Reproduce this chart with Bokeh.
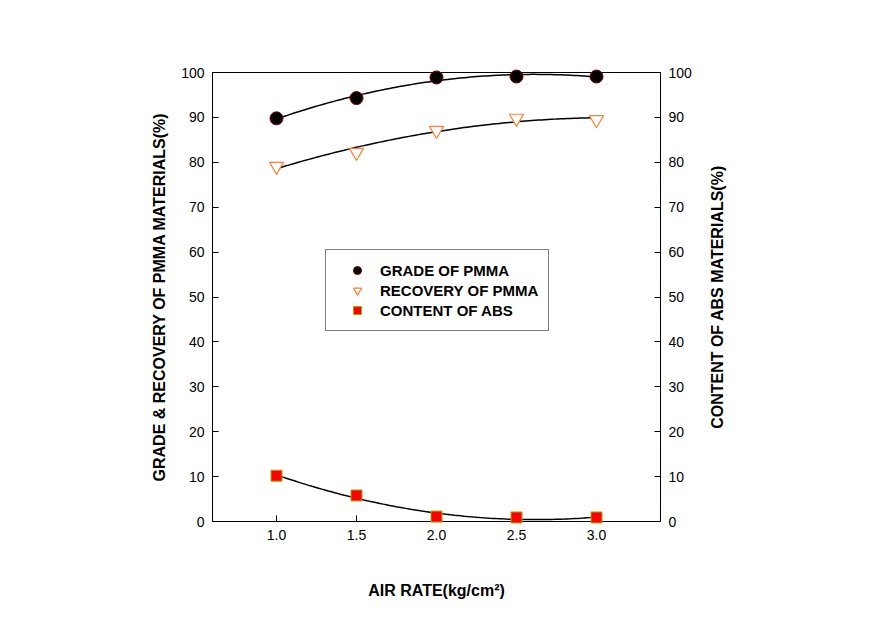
import numpy as np
from bokeh.plotting import figure
from bokeh.layouts import row
from bokeh.models import Range1d, LinearAxis, FixedTicker, Legend, LegendItem, NumeralTickFormatter
from bokeh.embed import file_html
from bokeh.resources import INLINE

# ---- data ----
air_rate = [1.0, 1.5, 2.0, 2.5, 3.0]
grade_pmma = [89.8, 94.3, 98.9, 99.1, 99.1]
recovery_pmma = [79.1, 82.2, 87.1, 89.8, 89.5]
content_abs = [10.2, 5.8, 1.1, 0.9, 0.9]
x_ticks = [1.0, 1.5, 2.0, 2.5, 3.0]
y_ticks = [0, 10, 20, 30, 40, 50, 60, 70, 80, 90, 100]

FONT = "Liberation Sans"

p = figure(width=700, height=630, output_backend="svg", toolbar_location=None,
           x_range=Range1d(0.6, 3.4), y_range=Range1d(0, 100),
           min_border_left=212, min_border_right=40, min_border_top=72, min_border_bottom=109)
p.extra_y_ranges = {"abs": Range1d(0, 100)}
p.grid.visible = False
p.outline_line_color = "black"
p.outline_line_width = 1
p.background_fill_color = "white"
p.border_fill_color = "white"

right_axis = LinearAxis(y_range_name="abs")
p.add_layout(right_axis, "right")

for ax in [p.xaxis[0], p.yaxis[0], right_axis]:
    ax.axis_line_color = "black"
    ax.major_tick_in = 6
    ax.major_tick_out = 0
    ax.minor_tick_line_color = None
    ax.major_label_text_font = FONT
    ax.major_label_text_font_size = "14px"
    ax.major_label_text_color = "black"
    ax.major_label_standoff = 8
    ax.axis_label_text_font = FONT
    ax.axis_label_text_font_size = "16px"
    ax.axis_label_text_font_style = "bold"
    ax.axis_label_text_color = "black"

p.xaxis.ticker = FixedTicker(ticks=x_ticks)
p.xaxis.formatter = NumeralTickFormatter(format="0.0")
p.yaxis[0].ticker = FixedTicker(ticks=y_ticks)
right_axis.ticker = FixedTicker(ticks=y_ticks)

p.xaxis.axis_label = "AIR RATE(kg/cm²)"
p.xaxis.axis_label_standoff = 39
p.yaxis[0].axis_label = "GRADE & RECOVERY OF PMMA MATERIALS(%)"
p.yaxis[0].axis_label_standoff = 10

# fitted curves (quadratic regression of the data)
xs = np.linspace(1.0, 3.0, 100)
for ys, rng in [(grade_pmma, "default"), (recovery_pmma, "default"), (content_abs, "abs")]:
    c = np.polyfit(air_rate, ys, 2)
    p.line(xs, np.polyval(c, xs), line_color="black", line_width=1.5, y_range_name=rng)

r1 = p.scatter(air_rate, grade_pmma, marker="circle", size=13, fill_color="black",
               line_color="#800000", line_width=1, level="overlay")
r2 = p.scatter(air_rate, recovery_pmma, marker="inverted_triangle", size=14, fill_color="white",
               line_color="#ff7f33", line_width=1.2, level="overlay")
r3 = p.scatter(air_rate, content_abs, marker="square", size=11, fill_color="red",
               line_color="#a8a800", line_width=1, y_range_name="abs", level="overlay")

legend = Legend(items=[LegendItem(label="GRADE OF PMMA", renderers=[r1]),
                       LegendItem(label="RECOVERY OF PMMA", renderers=[r2]),
                       LegendItem(label="CONTENT OF ABS", renderers=[r3])],
                location=(113, 190))
legend.label_text_font = FONT
legend.label_text_font_size = "15px"
legend.label_text_font_style = "bold"
legend.label_text_color = "black"
legend.glyph_width = 42
legend.glyph_height = 20
legend.label_height = 20
legend.label_standoff = 2
legend.spacing = 0
legend.padding = 10
legend.margin = 0
legend.border_line_color = "black"
legend.border_line_width = 1
legend.background_fill_color = "white"
legend.background_fill_alpha = 1
p.add_layout(legend, "center")

# narrow companion figure carrying the right-hand axis title (reads bottom to top)
p2 = figure(width=60, height=630, output_backend="svg", toolbar_location=None,
            x_range=Range1d(0, 1), y_range=Range1d(0, 100),
            min_border_left=30, min_border_right=5, min_border_top=72, min_border_bottom=109)
p2.grid.visible = False
p2.xaxis.visible = False
p2.outline_line_color = None
p2.background_fill_color = "white"
p2.border_fill_color = "white"
ax2 = p2.yaxis[0]
ax2.ticker = FixedTicker(ticks=[])
ax2.axis_line_color = None
ax2.major_tick_line_color = None
ax2.minor_tick_line_color = None
ax2.axis_label = "CONTENT OF ABS MATERIALS(%)"
ax2.axis_label_standoff = 5
ax2.axis_label_text_font = FONT
ax2.axis_label_text_font_size = "16px"
ax2.axis_label_text_font_style = "bold"
ax2.axis_label_text_color = "black"

open("out.html", "w").write(file_html(row(p, p2), INLINE))
